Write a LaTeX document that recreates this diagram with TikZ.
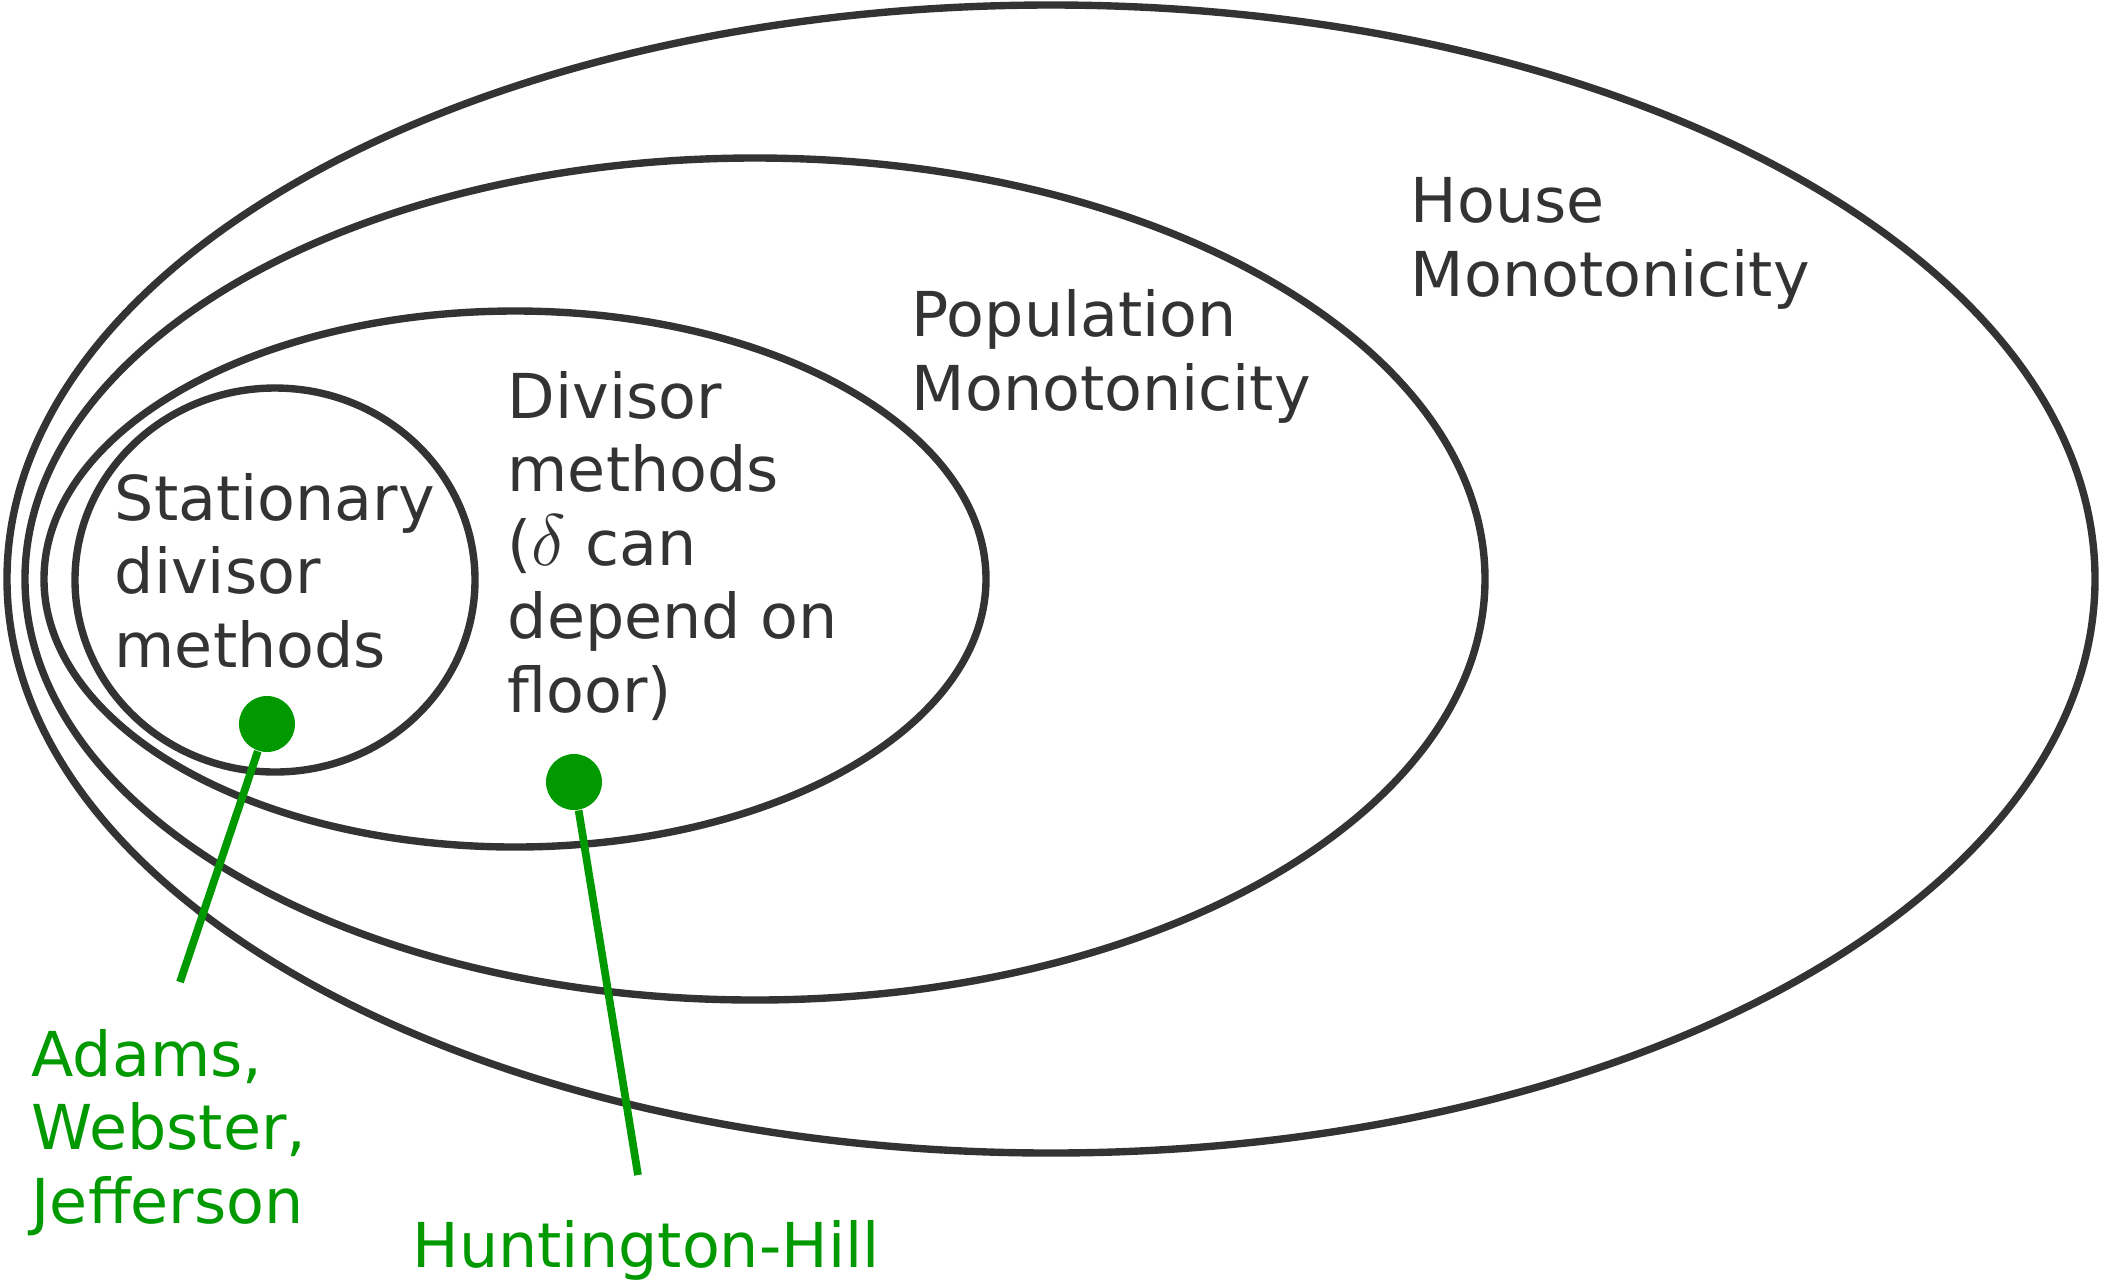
\documentclass[tikz,border=0pt]{standalone}
\usepackage{fontspec}
\setmainfont{DejaVu Sans}
\usetikzlibrary{positioning}
\definecolor{ringgray}{RGB}{51,51,51}
\definecolor{methgreen}{RGB}{0,153,0}
\newcommand{\bigdelta}{{\fontsize{22pt}{22pt}\selectfont$\delta$}}

\begin{document}
\begin{tikzpicture}[
  x=0.01cm, y=-0.01cm,
  every node/.style={font=\fontsize{17.6pt}{20.9pt}\selectfont, align=left, inner sep=0pt},
  ring/.style     ={draw=ringgray, line width=2.1pt},
  setlabel/.style ={text=ringgray, anchor=base west},
  methlabel/.style={text=methgreen, anchor=base west},
  dot/.style      ={circle, fill=methgreen, minimum size=0.56cm, inner sep=0pt},
  pointer/.style  ={draw=methgreen, line width=2.2pt}
]
\useasboundingbox (0,0) rectangle (2103,1281);

\draw[ring] (1051,579) ellipse (1044 and 574);
\draw[ring] (755,579)  ellipse (730 and 421);
\draw[ring] (515,579)  ellipse (471 and 268);
\draw[ring] (275,580)  ellipse (200 and 192);

% base anchor sits on the last line
\node[setlabel] (house) at (1410,296) {House\\Monotonicity};
\node[setlabel] (popu)  at (911,410)  {Population\\Monotonicity};
\node[setlabel] (divi)  at (507,712)  {Divisor\\methods\\(\bigdelta\ can\\depend on\\floor)};
\node[setlabel] (stat)  at (114,667)  {Stationary\\divisor\\methods};

\node[dot] (adamsdot) at (267,724) {};
\node[dot] (hilldot)  at (574,782) {};

\coordinate (adamsend) at (180,982);
\coordinate (hillend)  at (638,1175);

\draw[pointer] (adamsdot) -- (adamsend);
\draw[pointer] (hilldot) -- (hillend);

\node[methlabel] (adams) at (31,1223)  {Adams,\\Webster,\\Jefferson};
\node[methlabel] (hill)  at (412,1267) {Huntington-Hill};

\end{tikzpicture}
\end{document}
